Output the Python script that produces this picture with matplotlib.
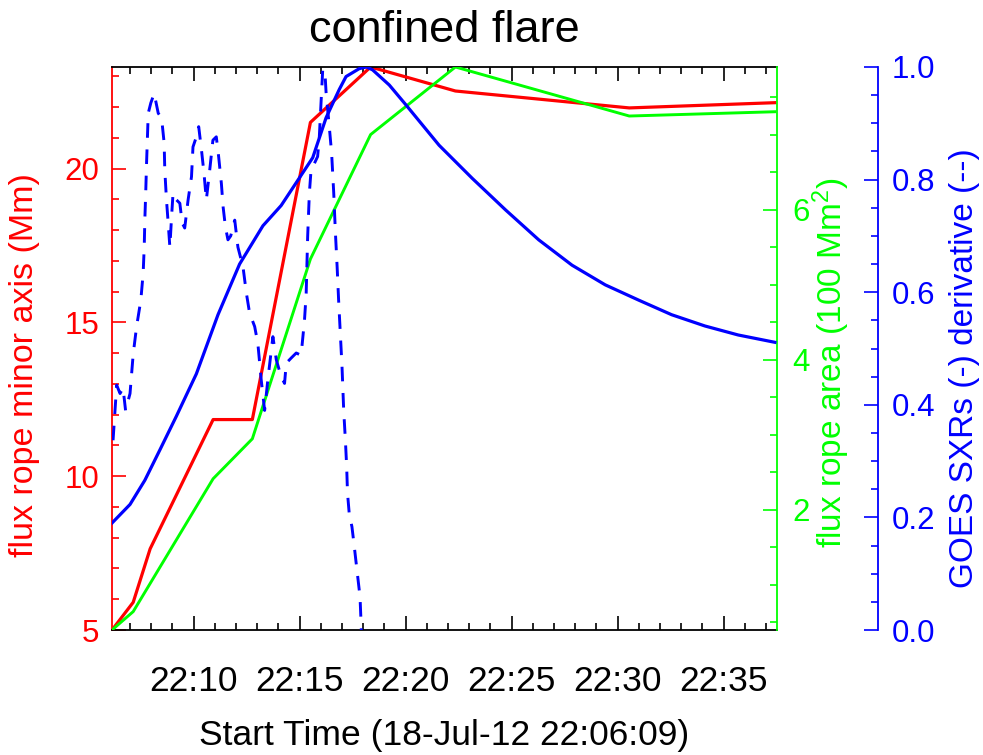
import matplotlib
matplotlib.use('Agg')
import matplotlib.pyplot as plt
from matplotlib.ticker import FixedLocator, MultipleLocator, FormatStrFormatter

plt.rcParams['font.family'] = ['Liberation Sans', 'DejaVu Sans']
plt.rcParams['mathtext.fontset'] = 'custom'
plt.rcParams['mathtext.rm'] = 'Liberation Sans'
plt.rcParams['mathtext.default'] = 'regular'

# ---------------- data (minutes after 22:06:09) ----------------
t_rope = [0.0, 1.0, 1.8, 4.77, 6.62, 9.36, 12.2, 16.2, 24.4, 31.27]
minor_axis = [5.0, 5.9, 7.64, 11.84, 11.84, 21.5, 23.3, 22.52, 21.97, 22.14]   # Mm
area = [0.4, 0.645, 1.02, 2.415, 2.947, 5.342, 7.0, 7.9, 7.247, 7.304]        # 100 Mm^2

t_goes = [0, 0.85, 1.55, 2.26, 3.04, 3.98, 5.0, 6.02, 7.12, 7.98, 8.84, 9.47,
          10.1, 10.72, 11.04, 11.66, 12.0, 12.29, 13.08, 13.86, 15.43, 17.0,
          18.57, 20.13, 21.7, 23.27, 24.84, 26.4, 27.97, 29.54, 31.27]
goes_sxr = [0.19, 0.223, 0.266, 0.32, 0.38, 0.455, 0.56, 0.65, 0.718, 0.754,
            0.803, 0.839, 0.91, 0.96, 0.983, 0.997, 1.0, 0.995, 0.968, 0.933,
            0.861, 0.802, 0.746, 0.693, 0.648, 0.613, 0.586, 0.56, 0.54, 0.524,
            0.511]

t_deriv = [0.05, 0.22, 0.38, 0.52, 0.64, 0.85, 1.00, 1.16, 1.36, 1.47, 1.52,
           1.55, 1.59, 1.63, 1.71, 1.83, 1.99, 2.18, 2.34, 2.46, 2.49, 2.57,
           2.65, 2.73, 2.81, 2.88, 3.04, 3.20, 3.31, 3.43, 3.59, 3.75, 3.82,
           3.98, 4.09, 4.22, 4.34, 4.45, 4.61, 4.76, 4.92, 5.03, 5.16, 5.24,
           5.35, 5.47, 5.60, 5.79, 5.94, 6.18, 6.34, 6.49, 6.73, 6.88, 7.04,
           7.20, 7.35, 7.59, 7.75, 7.98, 8.14, 8.22, 8.45, 8.69, 8.92, 9.08,
           9.16, 9.23, 9.31, 9.39, 9.55, 9.70, 9.78, 9.86, 9.94, 10.0, 10.10,
           10.25, 10.36, 10.46, 10.54, 10.62, 10.69, 10.77, 10.85, 10.93,
           11.01, 11.07, 11.11, 11.19, 11.32, 11.43, 11.59, 11.70, 11.75,
           11.76]
goes_deriv = [0.337, 0.435, 0.42, 0.43, 0.39, 0.42, 0.49, 0.539, 0.586, 0.634,
              0.68, 0.73, 0.776, 0.829, 0.918, 0.936, 0.953, 0.918, 0.909,
              0.865, 0.817, 0.764, 0.723, 0.68, 0.734, 0.776, 0.764, 0.758,
              0.723, 0.714, 0.764, 0.805, 0.858, 0.876, 0.894, 0.853, 0.811,
              0.764, 0.817, 0.87, 0.876, 0.841, 0.793, 0.752, 0.716, 0.693,
              0.70, 0.728, 0.68, 0.645, 0.598, 0.563, 0.539, 0.509, 0.444,
              0.39, 0.444, 0.521, 0.48, 0.45, 0.438, 0.474, 0.483, 0.492,
              0.488, 0.55, 0.598, 0.699, 0.776, 0.817, 0.829, 0.841, 0.876,
              0.936, 0.995, 1.02, 0.954, 0.894, 0.847, 0.776, 0.705, 0.645,
              0.586, 0.527, 0.468, 0.39, 0.337, 0.29, 0.243, 0.207, 0.183,
              0.148, 0.095, 0.059, 0.012, 0.0]

x_tick_pos = [3.85, 8.85, 13.85, 18.85, 23.85, 28.85]
x_tick_labels = ['22:10', '22:15', '22:20', '22:25', '22:30', '22:35']
x_minor_start = 0.85
x_range = (0.0, 31.37)
red_range = (5.0, 23.3)
green_range = (0.4, 7.9)
blue_range = (0.0, 1.0)

RED, GREEN, BLUE = '#ff0000', '#00ff00', '#0000ff'

fig = plt.figure(figsize=(9.83, 7.55), dpi=100)
ax = fig.add_axes([112/983, 125/755, 665/983, 563/755])
ax2 = ax.twinx()
ax3 = ax.twinx()

ax.plot(t_rope, minor_axis, color=RED, lw=2.3)
ax2.plot(t_rope, area, color=GREEN, lw=2.1)
ax3.plot(t_goes, goes_sxr, color=BLUE, lw=2.3)
ax3.plot(t_deriv, goes_deriv, color=BLUE, lw=2.1, dashes=(5.0, 4.0))

ax.set_xlim(*x_range)
ax.set_ylim(*red_range)
ax2.set_ylim(*green_range)
ax3.set_ylim(*blue_range)

# spines
for a in (ax, ax2, ax3):
    for s in a.spines.values():
        s.set_linewidth(1.3)
ax.spines['left'].set_color(RED)
ax.spines['top'].set_color('black')
ax.spines['bottom'].set_color('black')
ax.spines['right'].set_visible(False)
for s in ('left', 'top', 'bottom'):
    ax2.spines[s].set_visible(False)
    ax3.spines[s].set_visible(False)
ax2.spines['right'].set_color(GREEN)
ax3.spines['right'].set_color(BLUE)
ax3.spines['right'].set_position(('axes', (878 - 112) / 665))

# x axis
ax.xaxis.set_major_locator(FixedLocator(x_tick_pos))
ax.xaxis.set_minor_locator(MultipleLocator(1.0, offset=x_minor_start))
ax.set_xticklabels(x_tick_labels)
ax.tick_params(axis='x', which='both', direction='in', top=True, bottom=True,
               color='black', labelsize=25.5, pad=25, width=1.2)
ax.tick_params(axis='x', which='major', length=10)
ax.tick_params(axis='x', which='minor', length=5)
ax.set_xlabel('Start Time (18-Jul-12 22:06:09)', fontsize=25.5)
ax.xaxis.set_label_coords(0.5, -0.158)

# red axis
ax.yaxis.set_major_locator(MultipleLocator(5))
ax.yaxis.set_minor_locator(MultipleLocator(1))
ax.tick_params(axis='y', which='both', direction='in', left=True, right=False,
               color=RED, labelcolor=RED, labelsize=22.5, pad=9, width=1.2)
ax.tick_params(axis='y', which='major', length=10)
ax.tick_params(axis='y', which='minor', length=5)
ax.set_ylabel('flux rope minor axis (Mm)', color=RED, fontsize=24.5)
ax.yaxis.set_label_coords(-0.108, 0.47)

# green axis
ax2.yaxis.set_major_locator(MultipleLocator(2))
ax2.yaxis.set_minor_locator(MultipleLocator(0.5))
ax2.tick_params(axis='y', which='both', direction='in', color=GREEN,
                labelcolor=GREEN, labelsize=22.5, pad=11, width=1.2)
ax2.tick_params(axis='y', which='major', length=10)
ax2.tick_params(axis='y', which='minor', length=5)
ax2.set_ylabel('flux rope area (100 Mm$^{2}$)', color=GREEN, fontsize=24)
ax2.yaxis.set_label_coords(1.05, 0.475)

# blue axis
ax3.yaxis.set_major_locator(MultipleLocator(0.2))
ax3.yaxis.set_minor_locator(MultipleLocator(0.05))
ax3.yaxis.set_major_formatter(FormatStrFormatter('%.1f'))
ax3.tick_params(axis='y', which='both', direction='in', color=BLUE,
                labelcolor=BLUE, labelsize=22.5, pad=10, width=1.2)
ax3.tick_params(axis='y', which='major', length=10)
ax3.tick_params(axis='y', which='minor', length=5)
ax3.set_ylabel('GOES SXRs (-) derivative (--)', color=BLUE, fontsize=24)
ax3.yaxis.set_label_coords(1.258, 0.465)

fig.text(0.4522, 1 - 31 / 755, 'confined flare', ha='center', va='center',
         fontsize=32.5)

fig.savefig('out.png', dpi=100)
